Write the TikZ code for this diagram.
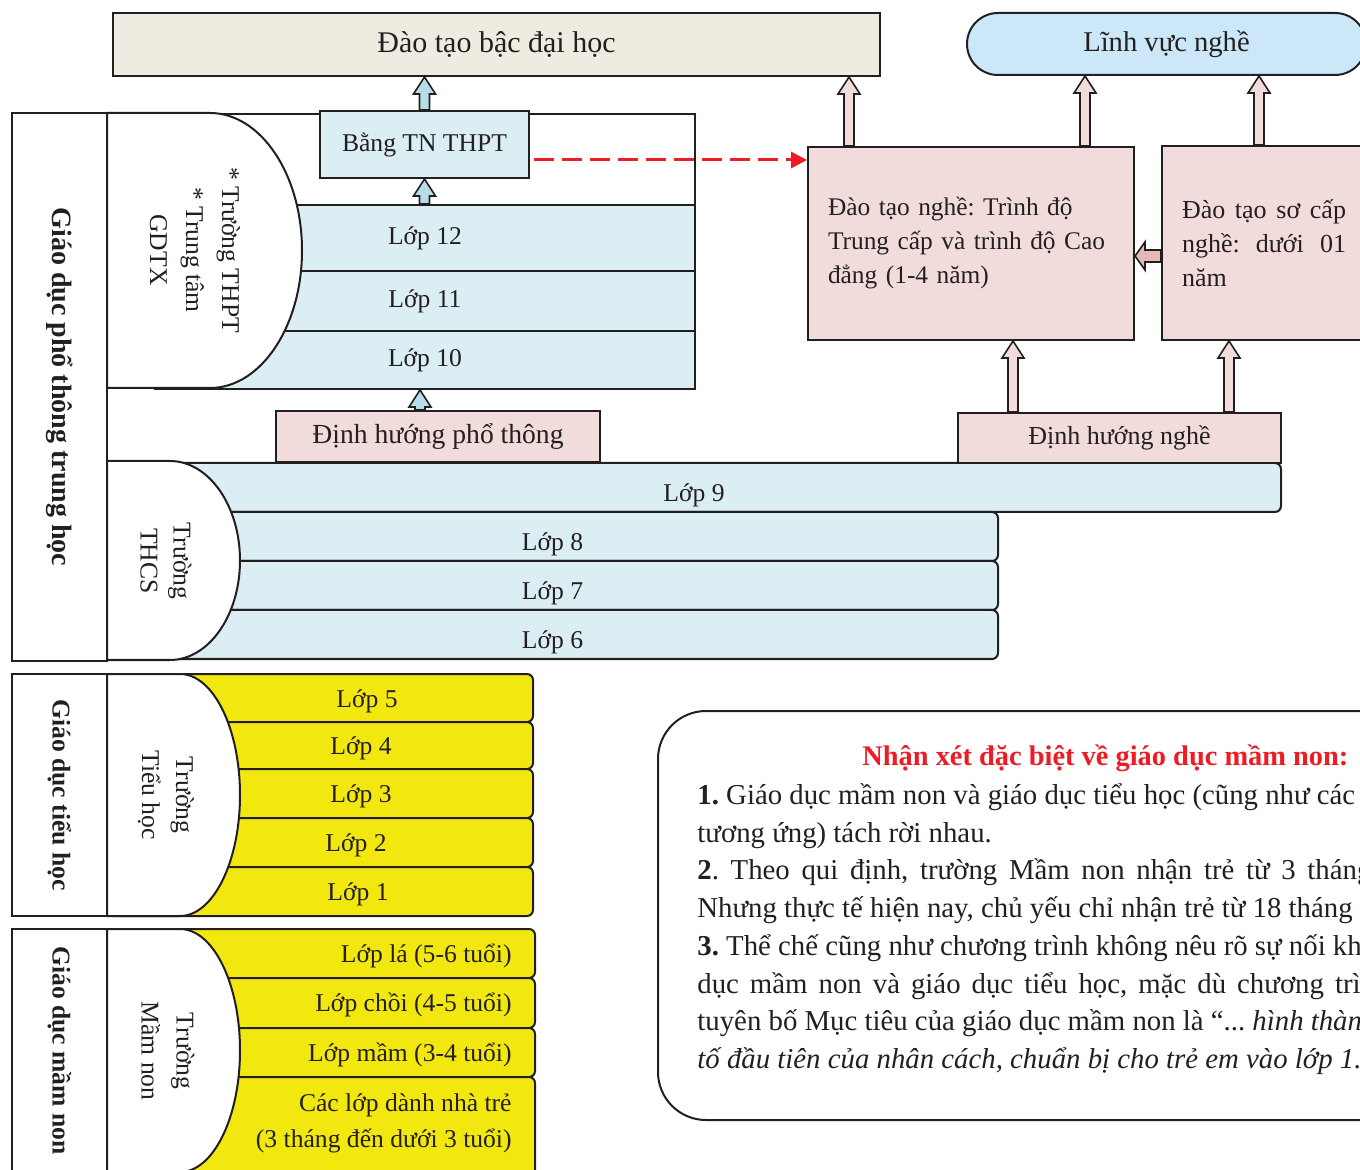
\documentclass[tikz,border=0pt]{standalone}
\usepackage{fontspec}
\setmainfont{Liberation Serif}
\usetikzlibrary{calc,arrows.meta}

\definecolor{ink}{HTML}{231F20}
\definecolor{beige}{HTML}{EEECE1}
\definecolor{skyfill}{HTML}{CCE8F8}
\definecolor{rowblue}{HTML}{DAEEF3}
\definecolor{pinkfill}{HTML}{F2DCDB}
\definecolor{pinkdark}{HTML}{E6B9B8}
\definecolor{arrowblue}{HTML}{B7DEE8}
\definecolor{yellowfill}{HTML}{F2E80F}
\definecolor{redline}{HTML}{ED1C24}

\newcommand{\fsz}[2]{\fontsize{#1}{#2}\selectfont}

\begin{document}
\frenchspacing
\begin{tikzpicture}[x=.5pt, y=-.5pt,
    khung/.style={draw=ink, line width=1pt, inner sep=0pt, text=ink},
    hang/.style={khung, fill=rowblue, font=\fsz{12.8}{15}},
    hangvang/.style={khung, fill=yellowfill, rounded corners=3pt},
    cot/.style={draw=ink, line width=1.3pt, inner sep=0pt},
    truong/.style={draw=ink, line width=1pt, fill=white},
    chu/.style={text=ink, inner sep=0pt, font=\fsz{12.8}{15}},
    tieudecot/.style={chu, rotate=-90, font=\bfseries\fsz{12.8}{16}},
    muiten/.style={draw=ink, line width=.8pt, to path={let \p1=(\tikztostart), \p2=(\tikztotarget) in
        (\x1-2.5pt,\y1) -- (\x1-2.5pt,\y2-8.5pt) -- (\x1-5.5pt,\y2-8.5pt) -- (\x1,\y2)
        -- (\x1+5.5pt,\y2-8.5pt) -- (\x1+2.5pt,\y2-8.5pt) -- (\x1+2.5pt,\y1) -- cycle}},
    muitentrai/.style={draw=ink, line width=.8pt, to path={let \p1=(\tikztostart), \p2=(\tikztotarget) in
        (\x1,\y1-3pt) -- (\x2+5pt,\y1-3pt) -- (\x2+5pt,\y1-7pt) -- (\x2,\y1)
        -- (\x2+5pt,\y1+7pt) -- (\x2+5pt,\y1+3pt) -- (\x1,\y1+3pt) -- cycle}},
    netdut/.style={draw=redline, line width=1.5pt, dash pattern=on 10pt off 4pt, -{Triangle[length=8pt,width=8pt]}}]
\useasboundingbox (0,0) rectangle (1360,1170);
\clip (0,0) rectangle (1360,1170);
% Các lớp THPT
\draw[draw=ink, line width=1pt] (107,114) -- (695,114) -- (695,389);
\foreach \txt/\ya/\yb [count=\i] in {Lớp 12/205/271, Lớp 11/271/331, Lớp 10/331/389}
    \node[hang, minimum width=270pt, minimum height={(\yb-\ya)*.5pt}] (thpt\i) at (425,{(\ya+\yb)/2}) {\txt};
% Các lớp THCS
\foreach \txt/\xb/\ya/\yb [count=\i] in {Lớp 9/1281/463/512, Lớp 8/998/512/561, Lớp 7/998/561/610, Lớp 6/998/610/659}
    \node[hang, rounded corners=3pt, text height=16.5pt, text depth=2.8pt, minimum width={(\xb-107)*.5pt}, minimum height={(\yb-\ya)*.5pt}] (thcs\i) at ({(\xb+107)/2},{(\ya+\yb)/2}) {\txt};
% Tiểu học
\foreach \n/\ya/\yb/\xt in {5/674/722/367, 4/722/769/361, 3/769/818/361, 2/818/867/356, 1/867/916/358}{
    \node[hangvang, minimum width=213pt, minimum height={(\yb-\ya)*.5pt}] (th\n) at (320,{(\ya+\yb)/2}) {};
    \node[chu] (lopth\n) at (\xt,{(\ya+\yb)/2+3}) {Lớp \n};
}
% Mầm non
\foreach \txt/\ya/\yb [count=\i] in {Lớp lá (5-6 tuổi)/929/978, Lớp chồi (4-5 tuổi)/978/1028, Lớp mầm (3-4 tuổi)/1028/1077}{
    \node[hangvang, minimum width=214pt, minimum height={(\yb-\ya)*.5pt}] (mn\i) at (321,{(\ya+\yb)/2}) {};
    \node[chu, anchor=east] (lopmn\i) at (512,{(\ya+\yb)/2+2}) {\txt};
}
\node[hangvang, minimum width=214pt, minimum height=54pt] (mn4) at (321,1131) {};
\node[chu, anchor=east, align=right, font=\fsz{12.8}{18}] (lopmn4) at (512,1123) {Các lớp dành nhà trẻ\\(3 tháng đến dưới 3 tuổi)};
% Khối trường (nửa elip)
\foreach \ya/\yb/\xs/\rx in {113/388/210/92, 461/660/170/70, 674/916/180/60, 929/1172/180/60}
    \draw[truong] (107,\ya) -- (\xs,\ya) arc[start angle=-90, end angle=90, x radius=\rx, y radius={(\yb-\ya)/2}] -- (107,\yb) -- cycle;
\node[chu, rotate=-90, align=center, font=\fsz{12.8}{18}] (tthpt) at (195,250) {* Trường THPT\\* Trung tâm\\GDTX};
\node[chu, rotate=-90, align=center, font=\fsz{12.8}{16.5}] (tthcs) at (166,561) {Trường\\THCS};
\node[chu, rotate=-90, align=center, font=\fsz{12.8}{17}] (ttieuhoc) at (166,795) {Trường\\Tiểu học};
\node[chu, rotate=-90, align=center, font=\fsz{12.8}{17.5}] (tmamnon) at (168,1051) {Trường\\Mầm non};
% Cột bên trái
\node[cot, minimum width=47.5pt, minimum height=274pt] (cotpt) at (59.5,387) {};
\node[tieudecot, font=\bfseries\fsz{14}{16}] at (cotpt.center) {Giáo dục phổ thông trung học};
\node[cot, minimum width=47.5pt, minimum height=121pt] (cotth) at (59.5,795) {};
\node[tieudecot] at (cotth.center) {Giáo dục tiểu học};
\node[cot, minimum width=47.5pt, minimum height=121.5pt] (cotmn) at (59.5,1050.5) {};
\node[tieudecot] at (cotmn.center) {Giáo dục mầm non};
% Các khung
\node[khung, fill=beige, font=\fsz{15}{18}, minimum width=383.5pt, minimum height=31.5pt] (daihoc) at (496.5,44.5) {Đào tạo bậc đại học};
\node[khung, fill=skyfill, rounded corners=15.5pt, font=\fsz{14.3}{17}, minimum width=199.5pt, minimum height=31pt] (linhvuc) at (1166.5,44) {Lĩnh vực nghề};
\node[khung, fill=rowblue, font=\fsz{12.8}{15}, minimum width=104.5pt, minimum height=33.5pt] (bang) at (424.5,144.5) {Bằng TN THPT};
\node[khung, fill=pinkfill, font=\fsz{13.8}{16}, minimum width=162pt, minimum height=25.5pt] (dhpt) at (438,436.5) {Định hướng phổ thông};
\node[khung, fill=pinkfill, font=\fsz{13}{16}, minimum width=161.5pt, minimum height=25pt] (dhn) at (1119.5,438) {Định hướng nghề};
\node[khung, fill=pinkfill, font=\fsz{12.7}{17}, text width=143pt, align=left, minimum width=163pt, minimum height=96.5pt] (nghe) at (971,243.5) {Đào tạo nghề: Trình độ\\Trung cấp và trình độ Cao\\đẳng (1-4 năm)};
\node[khung, fill=pinkfill, font=\fsz{13}{17}, text width=82pt, align=justify, minimum width=102pt, minimum height=97pt] (socap) at (1264,243) {Đào tạo sơ cấp\linebreak nghề: dưới 01\linebreak năm};
% Mũi tên
\coordinate (dhptchan) at ($(dhpt.north)+(-18,0)$);
\coordinate (ngheA) at ($(nghe.north west)+(42,0)$);
\coordinate (ngheB) at ($(nghe.north west)+(278,0)$);
\coordinate (socapA) at ($(socap.north west)+(98,0)$);
\coordinate (dhnA) at ($(dhn.north west)+(56,0)$);
\coordinate (dhnB) at ($(dhn.north west)+(272,0)$);
\coordinate (socapW) at ($(socap.west)+(0,13)$);
\coordinate (dutA) at ($(bang.east)+(4,15.5)$);
\draw[muiten, fill=arrowblue] (bang.north) to (bang.north |- daihoc.south);
\draw[muiten, fill=arrowblue] (bang.south |- thpt1.north) to (bang.south);
\draw[muiten, fill=arrowblue] (dhptchan) to (dhptchan |- thpt3.south);
\draw[muiten, fill=pinkfill] (ngheA) to (ngheA |- daihoc.south);
\draw[muiten, fill=pinkfill] (ngheB) to (ngheB |- linhvuc.south);
\draw[muiten, fill=pinkfill] (socapA) to (socapA |- linhvuc.south);
\draw[muiten, fill=pinkfill] (dhnA) to (dhnA |- nghe.south);
\draw[muiten, fill=pinkfill] (dhnB) to (dhnB |- socap.south);
\draw[muitentrai, fill=pinkdark] (socapW) to (socapW -| nghe.east);
\draw[netdut] (dutA) -- (dutA -| nghe.west);
% Ghi chú
\draw[draw=ink, line width=1pt, fill=white, rounded corners=24pt] (658,711) rectangle (1420,1120);
\node[anchor=base west, inner sep=0pt, text=redline, font=\bfseries\fsz{14.2}{17}] (tieude) at (862,765) {Nhận xét đặc biệt về giáo dục mầm non:};
\foreach \yy/\dong [count=\i] in {
    804/{\textbf{1.} Giáo dục mầm non và giáo dục tiểu học (cũng như các},
    842/{tương ứng) tách rời nhau.},
    879/{\makebox[337pt][s]{\textbf{2}. Theo qui định, trường Mầm non nhận trẻ từ 3 tháng}},
    917/{Nhưng thực tế hiện nay, chủ yếu chỉ nhận trẻ từ 18 tháng đến},
    955/{\textbf{3.} Thể chế cũng như chương trình không nêu rõ sự nối khớp},
    993/{\makebox[346pt][s]{dục mầm non và giáo dục tiểu học, mặc dù chương trình}},
    1030/{tuyên bố Mục tiêu của giáo dục mầm non là “... \textit{hình thành}},
    1068/{\textit{tố đầu tiên của nhân cách, chuẩn bị cho trẻ em vào lớp 1...}}}
    \node[chu, anchor=base west, font=\fsz{14.4}{18.85}] (ghichu\i) at (697,\yy) {\dong};
\end{tikzpicture}
\end{document}
